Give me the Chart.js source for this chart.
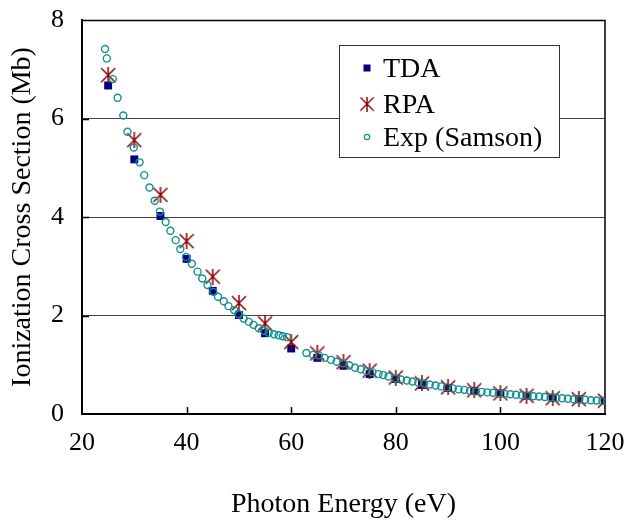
<!DOCTYPE html>
<html>
<head>
<meta charset="utf-8">
<script src="https://cdn.jsdelivr.net/npm/chart.js@4.4.0/dist/chart.umd.min.js"></script>
<style>
  html, body { margin: 0; padding: 0; background: #fff; }
</style>
</head>
<body>
<canvas id="chart" width="629" height="520"></canvas>
<script>
// calculated points (TDA / RPA), every 5 eV
const energies = [25, 30, 35, 40, 45, 50, 55, 60, 65, 70, 75, 80, 85, 90, 95, 100, 105, 110, 115, 120];
const tdaValues = [6.67, 5.17, 4.02, 3.15, 2.50, 2.01, 1.64, 1.33, 1.14, 0.98, 0.81, 0.71, 0.59, 0.53, 0.47, 0.42, 0.37, 0.33, 0.30, 0.27];
const rpaValues = [6.88, 5.56, 4.45, 3.51, 2.79, 2.25, 1.84, 1.46, 1.23, 1.05, 0.88, 0.74, 0.62, 0.54, 0.48, 0.42, 0.37, 0.32, 0.30, 0.27];

// measured points (Samson)
const expEnergies = [24.4, 24.75, 25.9, 26.8, 27.9, 28.7, 29.9, 31.0, 31.9, 32.9, 33.9, 34.9, 36.0, 36.9, 37.9, 38.8,
  39.9, 41.0, 42.1, 43.0, 44.0, 45.1, 46.0, 47.1, 48.0, 49.1, 49.9, 50.9, 51.9, 52.8, 53.8, 54.8, 55.7, 56.7, 57.6, 58.4, 59.2,
  62.9, 64.2, 65.3, 66.4, 67.6, 68.7, 69.9, 71.1, 72.2, 73.3, 74.4, 75.5, 76.7, 77.6, 78.6, 79.9,
  81.0, 82.1, 83.2, 84.3, 85.4, 86.5, 87.6, 88.7, 89.8, 90.9, 92.0, 93.1, 94.2, 95.3, 96.4, 97.5, 98.6, 99.7,
  100.8, 101.9, 103.0, 104.1, 105.2, 106.3, 107.4, 108.5, 109.6, 110.7, 111.8, 112.9, 114.0, 115.1, 116.2, 117.3, 118.4, 119.5, 120.4];
const expValues = [7.41, 7.22, 6.80, 6.42, 6.06, 5.73, 5.41, 5.11, 4.85, 4.60, 4.33, 4.11, 3.90, 3.72, 3.53, 3.35,
  3.19, 3.05, 2.89, 2.75, 2.62, 2.48, 2.38, 2.29, 2.19, 2.11, 2.03, 1.94, 1.87, 1.81, 1.74, 1.69, 1.65, 1.62, 1.60, 1.58, 1.56,
  1.24, 1.20, 1.19, 1.14, 1.10, 1.06, 1.03, 0.99, 0.94, 0.91, 0.87, 0.85, 0.81, 0.79, 0.76, 0.72,
  0.70, 0.68, 0.66, 0.64, 0.62, 0.60, 0.58, 0.56, 0.54, 0.52, 0.50, 0.49, 0.47, 0.46, 0.45, 0.44, 0.43, 0.42,
  0.41, 0.40, 0.39, 0.38, 0.37, 0.36, 0.355, 0.345, 0.335, 0.325, 0.32, 0.31, 0.30, 0.295, 0.29, 0.28, 0.275, 0.265, 0.26];

const xTicks = [20, 40, 60, 80, 100, 120];
const yTicks = [0, 2, 4, 6, 8];

const FONT = "'Liberation Serif', 'Times New Roman', serif";

// star marker like the spreadsheet one: an X with a vertical stroke
function makeStar(size, color) {
  const c = document.createElement('canvas');
  c.width = size; c.height = size;
  const g = c.getContext('2d');
  g.strokeStyle = color;
  g.lineWidth = 1.5;
  const m = 1, s = size - 1;
  g.beginPath();
  g.moveTo(m, m); g.lineTo(s, s);
  g.moveTo(s, m); g.lineTo(m, s);
  g.moveTo(size / 2, 0); g.lineTo(size / 2, size);
  g.stroke();
  return c;
}
const starImg = makeStar(16, '#8b0000');

function toPoints(xs, ys) {
  return xs.map((x, i) => ({ x: x, y: ys[i] }));
}

const framePlugin = {
  id: 'frame',
  beforeDatasetsDraw(chart) {
    const ctx = chart.ctx;
    const a = chart.chartArea;
    const xs = chart.scales.x, ys = chart.scales.y;
    ctx.save();
    ctx.strokeStyle = '#000';
    ctx.lineWidth = 1.5;
    ctx.beginPath();
    ctx.moveTo(a.left, a.top + 0.5);
    ctx.lineTo(a.right, a.top + 0.5);
    ctx.lineTo(a.right, a.bottom);
    ctx.stroke();
    // inward tick marks
    ctx.beginPath();
    xTicks.slice(1, -1).forEach(v => {
      const px = Math.round(xs.getPixelForValue(v)) + 0.5;
      ctx.moveTo(px, a.bottom);
      ctx.lineTo(px, a.bottom - 7);
    });
    yTicks.slice(1, -1).forEach(v => {
      const py = Math.round(ys.getPixelForValue(v)) + 0.5;
      ctx.moveTo(a.left, py);
      ctx.lineTo(a.left + 7, py);
    });
    ctx.stroke();
    ctx.restore();
  }
};

const legendPlugin = {
  id: 'boxLegend',
  afterDraw(chart) {
    const ctx = chart.ctx;
    ctx.save();
    ctx.fillStyle = '#fff';
    ctx.strokeStyle = '#333';
    ctx.lineWidth = 1;
    ctx.fillRect(339.5, 45.5, 220, 112);
    ctx.strokeRect(339.5, 45.5, 220, 112);
    ctx.font = '28px ' + FONT;
    ctx.textBaseline = 'middle';
    ctx.textAlign = 'left';
    const rows = [68, 104, 137];
    chart.data.datasets.forEach((ds, i) => {
      const y = rows[i], x = 367;
      if (ds.pointStyle === 'rect') {
        ctx.fillStyle = ds.backgroundColor;
        ctx.fillRect(x - 3.5, y - 3.5, 7, 7);
      } else if (ds.pointStyle === 'circle') {
        ctx.strokeStyle = ds.borderColor;
        ctx.lineWidth = 1.2;
        ctx.beginPath();
        ctx.arc(x, y, 2.7, 0, Math.PI * 2);
        ctx.stroke();
      } else {
        ctx.drawImage(ds.pointStyle, x - 7.5, y - 7.5, 15, 15);
      }
      ctx.fillStyle = '#000';
      ctx.fillText(ds.label, 383, y + 2);
    });
    ctx.restore();
  }
};

new Chart(document.getElementById('chart'), {
  type: 'scatter',
  data: {
    datasets: [
      {
        label: 'TDA',
        data: toPoints(energies, tdaValues),
        pointStyle: 'rect',
        pointRadius: 5.6,
        backgroundColor: '#000080',
        borderColor: '#000080',
        borderWidth: 0,
        order: 3
      },
      {
        label: 'RPA',
        data: toPoints(energies, rpaValues),
        pointStyle: starImg,
        pointRadius: 8,
        backgroundColor: '#8b0000',
        borderColor: '#8b0000',
        order: 2
      },
      {
        label: 'Exp (Samson)',
        data: toPoints(expEnergies, expValues),
        pointStyle: 'circle',
        pointRadius: 3.5,
        borderWidth: 1.4,
        borderColor: '#119191',
        backgroundColor: 'rgba(255,255,255,0)',
        order: 1
      }
    ]
  },
  options: {
    responsive: false,
    animation: false,
    layout: { padding: { top: 20, right: 24, left: 0, bottom: 0 } },
    plugins: {
      legend: { display: false },
      tooltip: { enabled: false }
    },
    scales: {
      x: {
        type: 'linear',
        min: 20,
        max: 120,
        afterFit: s => {
          s.height = 106;
          s.paddingLeft = 0;
          s.paddingRight = 0;
        },
        afterBuildTicks: s => { s.ticks = xTicks.map(v => ({ value: v })); },
        grid: { display: false, drawTicks: false },
        border: { display: true, color: '#000', width: 2 },
        ticks: { color: '#000', padding: 14, font: { family: FONT, size: 26 } },
        title: {
          display: true,
          text: 'Photon Energy (eV)',
          color: '#000',
          padding: 0,
          font: { family: FONT, size: 28, lineHeight: 1.1 }
        }
      },
      y: {
        min: 0,
        max: 8,
        afterFit: s => {
          s.width = 82;
          s.paddingTop = 0;
          s.paddingBottom = 0;
        },
        afterBuildTicks: s => { s.ticks = yTicks.map(v => ({ value: v })); },
        grid: { color: '#444', lineWidth: 1, drawTicks: false },
        border: { display: true, color: '#000', width: 2 },
        ticks: { color: '#000', padding: 18, font: { family: FONT, size: 26 } },
        title: {
          display: true,
          text: 'Ionization Cross Section (Mb)',
          color: '#000',
          padding: { top: 6, bottom: 0 },
          font: { family: FONT, size: 28, lineHeight: 1.2 }
        }
      }
    }
  },
  plugins: [framePlugin, legendPlugin]
});
</script>
</body>
</html>
